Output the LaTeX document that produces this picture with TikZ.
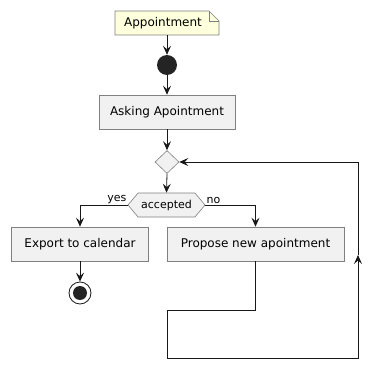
\documentclass[tikz,border=0pt]{standalone}
\usepackage{fontspec}
\setmainfont{DejaVu Sans}
\usetikzlibrary{arrows.meta,shapes.geometric,shapes.symbols}
\definecolor{notefill}{HTML}{FEFFDD}
\definecolor{actfill}{HTML}{F1F1F1}
\definecolor{ink}{HTML}{181818}
\begin{document}
\begin{tikzpicture}[x=1pt,y=-1pt,
  act/.style={draw=black!50, fill=actfill, line width=0.6pt, minimum height=34pt, inner sep=0pt, font=\fontsize{12}{14}\selectfont},
  arr/.style={-{Stealth[length=9pt,width=8pt,inset=3.5pt]}, line width=0.8pt, draw=ink},
  lbl/.style={font=\fontsize{11}{13}\selectfont, inner sep=1pt}
]
\useasboundingbox (0,0) rectangle (383,369);
% note frame
\coordinate (nw) at (115,11);
\coordinate (ne) at (219,11);
\coordinate (se) at (219,35);
\coordinate (sw) at (115,35);
\coordinate (fa) at (209,11);
\coordinate (fb) at (209,21);
\coordinate (fc) at (219,21);
\draw[draw=black!50, fill=notefill, line width=0.6pt]
  (nw) -- (fa) -- (fc) -- (se) -- (sw) -- cycle;
\draw[draw=black!50, line width=0.6pt] (fa) -- (fb) -- (fc);
\node[minimum width=104pt, minimum height=24pt, inner sep=0pt, font=\fontsize{12}{14}\selectfont] (note) at (167,23) {\hspace*{-8pt}Appointment};
% start
\node[circle, fill=ink!95, minimum size=20pt, inner sep=0pt] (start) at (167,65) {};
% activity
\node[act, minimum width=136pt] (ask) at (167,112) {Asking Apointment};
% merge diamond
\node[diamond, draw=black!50, fill=actfill, line width=0.6pt, minimum width=24pt, minimum height=23pt, inner sep=0pt, aspect=1] (merge) at (167,162) {};
% decision
\node[signal, signal to=east and west, signal pointer angle=100, draw=black!50, fill=actfill, line width=0.6pt, minimum width=77pt, minimum height=24pt, inner sep=0pt, font=\fontsize{11}{13}\selectfont] (dec) at (166.5,205) {accepted};
\node[act, minimum width=137pt] (exp) at (80,244) {Export to calendar};
\node[act, minimum width=177pt] (prop) at (255.5,244) {Propose new apointment};
% end
\node[circle, draw=ink, line width=0.8pt, fill=white, minimum size=22pt, inner sep=0pt] (stop) at (80,293) {};
\node[circle, fill=ink!95, minimum size=14pt, inner sep=0pt] (stopin) at (stop.center) {};
% edges
\draw[arr] (note.south) -- (start.north);
\draw[arr] (start.south) -- (ask.north);
\draw[arr] (ask.south) -- (merge.north);
\draw[arr] (merge.south) -- (dec.north);
\draw[arr] (dec.west) -| (exp.north);
\draw[arr] (dec.east) -| (prop.north);
\node[lbl, anchor=south east] at (dec.west) {yes};
\node[lbl, anchor=south west] at (dec.east) {no};
\draw[arr] (exp.south) -- (stop.north);
\coordinate (l1) at (167,310);
\coordinate (l2) at (167,358);
\coordinate (l3) at (358,358);
\coordinate (l5) at (358,255);
\coordinate (l4) at (358,162);
\draw[arr] (prop.south) |- (l1) -- (l2) -- (l3) -- (l5);
\draw[arr] (l5) -- (l4) -- (merge.east);
\end{tikzpicture}
\end{document}
